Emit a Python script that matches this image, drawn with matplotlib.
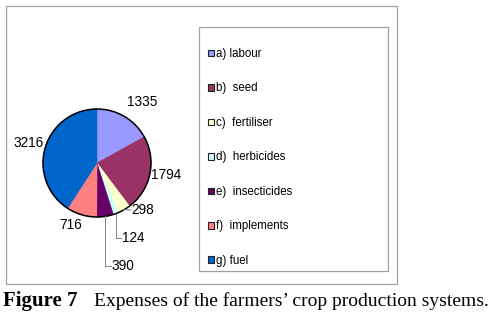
import matplotlib.pyplot as plt
from matplotlib.patches import Rectangle, Circle, Patch
import numpy as np

plt.rcParams['font.family'] = ['Liberation Sans', 'DejaVu Sans']

# data
categories = ['a) labour', 'b)  seed', 'c)  fertiliser', 'd)  herbicides',
              'e)  insecticides', 'f)  implements', 'g) fuel']
expenses = [1335, 1794, 298, 124, 390, 716, 3216]
colors = ['#9999FF', '#993366', '#FFFFCC', '#CCFFFF', '#660066', '#FF8080', '#0066CC']

# pixel layout (y measured downward)
W, H = 495, 312
cx, cy, R = 97, 163, 54
# text centre of each value label, relative to pie centre
label_offsets = [(45, -61), (69, 12), (46, 47), (None, None), (None, None), (-26, 62), (-68, -20)]

fig = plt.figure(figsize=(W / 100, H / 100), dpi=100)
ax = fig.add_axes([0, 0, 1, 1])

# y axis is inverted, so counterclock=True with start at 270 runs clockwise from the top
wedges, _ = ax.pie(expenses, colors=colors, startangle=270, counterclock=True,
                   center=(cx, cy), radius=R, wedgeprops=dict(linewidth=0.4))
for w, c in zip(wedges, colors):
    w.set_edgecolor(c)
ax.add_patch(Circle((cx, cy), R, fill=False, edgecolor='black', linewidth=1.1))

ax.set_xlim(0, W)
ax.set_ylim(H, 0)
ax.set_aspect('auto')
ax.axis('off')

# value labels
for val, off in zip(expenses, label_offsets):
    if off[0] is None:
        continue
    ax.text(cx + off[0], cy + off[1], str(val), fontsize=9.8, ha='center', va='center')

# labels with leader lines (herbicides, insecticides)
frac = np.cumsum([0] + expenses) / sum(expenses)
for i, (ty, tx) in zip([3, 4], [(238, 122), (266, 112)]):
    mid = 270 + 360 * (frac[i] + frac[i + 1]) / 2
    ex = cx + R * np.cos(np.radians(mid))
    ey = cy + R * np.sin(np.radians(mid))
    ax.plot([ex, ex, tx - 1], [ey, ty, ty], color='#808080', linewidth=0.7)
    ax.text(tx, ty, str(expenses[i]), fontsize=9.8, ha='left', va='center')

# short leader for fertiliser
mid = 270 + 360 * (frac[2] + frac[3]) / 2
ex = cx + R * np.cos(np.radians(mid))
ey = cy + R * np.sin(np.radians(mid))
ax.plot([ex, 131], [ey, 210], color='#808080', linewidth=0.7)

# frames
ax.add_patch(Rectangle((5.5, 5.5), 391.5, 278.5, fill=False, edgecolor='#A0A0A0', linewidth=0.9))
ax.add_patch(Rectangle((199, 27), 189, 244, fill=False, edgecolor='#A0A0A0', linewidth=0.9))

handles = [Patch(facecolor=c, edgecolor='#202020', linewidth=0.8) for c in colors]
ax.legend(handles, categories, loc='upper left', bbox_to_anchor=(208, 48),
          bbox_transform=ax.transData, frameon=False, fontsize=8.3,
          handlelength=0.5, handleheight=0.5, handletextpad=0.2,
          labelspacing=1.95, borderpad=0, borderaxespad=0)

# caption
fig.text(3 / W, 1 - 306 / H, 'Figure 7', fontsize=15, fontweight='bold',
         family='Liberation Serif', va='baseline')
fig.text(94 / W, 1 - 306 / H, 'Expenses of the farmers\u2019 crop production systems.',
         fontsize=14, family='Liberation Serif', va='baseline')

fig.savefig('out.png', dpi=100)
